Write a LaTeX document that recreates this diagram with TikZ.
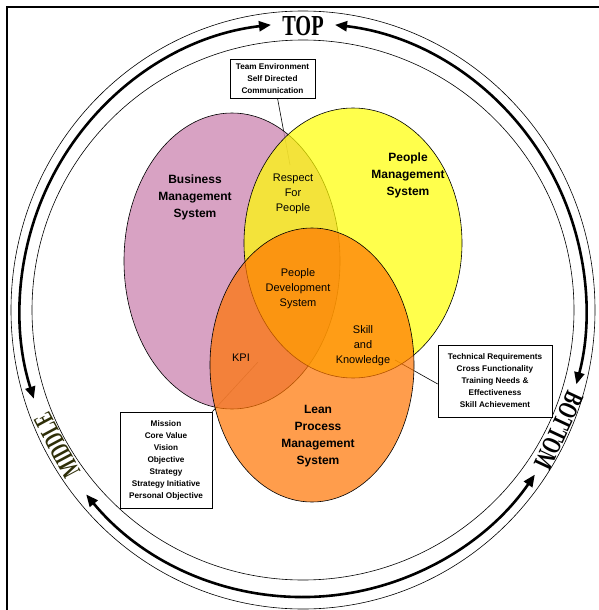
\documentclass[tikz,border=0pt]{standalone}
\usepackage{fontspec}
\usepackage{graphicx}
\setmainfont{Liberation Serif}
\setsansfont{Liberation Sans}
\usetikzlibrary{arrows.meta,calc}
\definecolor{bizpink}{HTML}{CF8BB5}
\definecolor{pplyellow}{HTML}{FFFF00}
\definecolor{leanorange}{HTML}{FF7400}
\definecolor{oliveblack}{HTML}{2E2E08}
\begin{document}
\begin{tikzpicture}[x=1pt,y=-1pt,
  frameline/.style={line width=2pt},
  thinring/.style={line width=0.6pt},
  ring/.style={line width=2.6pt,{Triangle[length=12pt,width=10pt]}-{Triangle[length=12pt,width=10pt]}},
  ringtext/.style={font=\bfseries\fontsize{29}{29}\selectfont,inner sep=0pt},
  sidetext/.style={font=\bfseries\fontsize{27}{27}\selectfont,inner sep=0pt},
  venn/.style={draw=black,line width=0.6pt},
  boldlab/.style={font=\sffamily\bfseries\fontsize{12}{17}\selectfont,align=center,inner sep=0pt},
  plainlab/.style={font=\sffamily\fontsize{11}{15}\selectfont,align=center,inner sep=0pt},
  notebox/.style={draw=black,line width=0.6pt,fill=white,align=center,inner sep=0pt,
    font=\sffamily\bfseries\fontsize{8.2}{12}\selectfont},
  conn/.style={line width=0.6pt}
]
\useasboundingbox (0,0) rectangle (598,610);
\fill[white] (0,0) rectangle (598,610);
% frame
\draw[frameline] (7,612) -- (7,7) -- (600,7);
% rings
\coordinate (C) at (303,310);
\draw[thinring] (C) ellipse [x radius=292pt, y radius=299pt];
\draw[thinring] (C) ellipse [x radius=271pt, y radius=270pt];
\draw[ring] ($(C)+(96.5:283pt and 287pt)$) arc[start angle=96.5, end angle=198, x radius=283pt, y radius=287pt];
\draw[ring] ($(C)+(83.5:283pt and 287pt)$) arc[start angle=83.5, end angle=-15, x radius=283pt, y radius=287pt];
\draw[ring] ($(C)+(220:283pt and 287pt)$) arc[start angle=220, end angle=325, x radius=283pt, y radius=287pt];
\node[ringtext] (toplab) at ($(C)+(90:282pt and 284pt)$) {\scalebox{0.7}[1]{TOP}};
\node[sidetext,text=oliveblack,rotate=118] (midlab) at ($(C)+(208.5:280pt and 284pt)$) {\scalebox{0.62}[1]{MIDDLE}};
\node[sidetext,rotate=-115] (botlab) at ($(C)+(-25:282pt and 286pt)$) {\scalebox{0.68}[1]{BOTTOM}};
% note boxes
\node[notebox,minimum width=85pt,minimum height=39pt] (tbox) at (272.5,78.5)
  {Team Environment\\Self Directed\\Communication};
\node[notebox,minimum width=114pt,minimum height=72pt] (rbox) at (495,381)
  {Technical Requirements\\Cross Functionality\\Training Needs \&\\Effectiveness\\Skill Achievement};
\node[notebox,minimum width=92pt,minimum height=96pt] (lbox) at (166,460)
  {Mission\\Core Value\\Vision\\Objective\\Strategy\\Strategy Initiative\\Personal Objective};
% connectors (under the translucent fills)
\coordinate (tEnd) at (290,165);
\coordinate (rEnd) at (395,360);
\coordinate (lEnd) at (258,362);
\draw[conn] ([xshift=5pt]tbox.south) -- (tEnd);
\draw[conn] ([yshift=-3pt]rbox.west) -- (rEnd);
\draw[conn] (lbox.north east) -- (lEnd);
% venn ellipses
\path[venn,fill=bizpink,fill opacity=0.8] (232,261) ellipse [x radius=108pt, y radius=148pt];
\path[venn,fill=pplyellow,fill opacity=0.7] (353,243) ellipse [x radius=109pt, y radius=135pt];
\path[venn,fill=leanorange,fill opacity=0.7] (312,365) ellipse [x radius=102pt, y radius=137pt];
% labels
\node[boldlab] (biz) at (195,197) {Business\\Management\\System};
\node[boldlab] (ppl) at (408,175) {People\\Management\\System};
\node[boldlab] (lean) at (318,436) {Lean\\Process\\Management\\System};
\node[plainlab] (respect) at (293,194) {Respect\\For\\People};
\node[plainlab] (pds) at (298,289) {People\\Development\\System};
\node[plainlab] (skill) at (363,346) {Skill\\and\\Knowledge};
\node[plainlab] (kpi) at (241,358) {KPI};
\end{tikzpicture}
\end{document}
